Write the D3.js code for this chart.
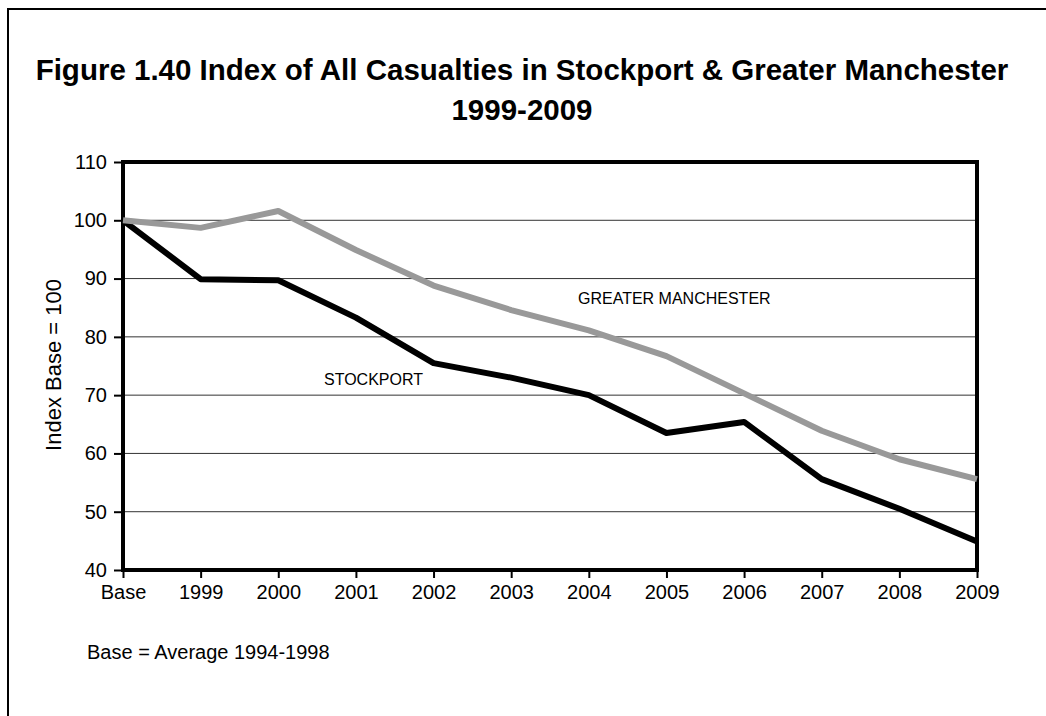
<!DOCTYPE html>
<html>
<head>
<meta charset="utf-8">
<style>
  body { margin: 0; background: #fff; }
  svg { display: block; font-family: "Liberation Sans", Arial, sans-serif; }
</style>
</head>
<body>
<svg width="1046" height="716"></svg>
<script src="https://cdnjs.cloudflare.com/ajax/libs/d3/7.8.5/d3.min.js"></script>
<script>

// categories and values
var categories = ["Base", "1999", "2000", "2001", "2002", "2003", "2004", "2005", "2006", "2007", "2008", "2009"];
var stockport = [100, 89.9, 89.7, 83.3, 75.5, 73.0, 70.0, 63.5, 65.4, 55.6, 50.5, 44.9];
var greaterManchester = [100, 98.7, 101.6, 94.9, 88.8, 84.6, 81.1, 76.7, 70.3, 63.9, 59.0, 55.6];
var yTicks = [40, 50, 60, 70, 80, 90, 100, 110];

var svg = d3.select("svg"),
    margin = {top: 162, left: 123, right: 69, bottom: 146},
    width = +svg.attr("width") - margin.left - margin.right,
    height = +svg.attr("height") - margin.top - margin.bottom;

// outer frame (only left and top edges fall inside the picture)
svg.append("rect")
    .attr("x", 8).attr("y", 9)
    .attr("width", 1100).attr("height", 800)
    .attr("fill", "none")
    .attr("stroke", "#000")
    .attr("stroke-width", 2);

// title
var title = svg.append("text")
    .attr("text-anchor", "middle")
    .attr("font-weight", "bold")
    .attr("font-size", 29.5)
    .attr("fill", "#000");
title.append("tspan").attr("x", 522).attr("y", 80)
    .text("Figure 1.40 Index of All Casualties in Stockport & Greater Manchester");
title.append("tspan").attr("x", 522).attr("y", 120).text("1999-2009");

var g = svg.append("g").attr("transform", "translate(" + margin.left + "," + margin.top + ")");

var x = d3.scalePoint().domain(categories).range([0, width]);
var y = d3.scaleLinear().domain([40, 110]).range([height, 0]);

// gridlines
g.append("g")
    .selectAll("line")
    .data(yTicks.filter(function(d) { return d > 40 && d < 110; }))
    .enter().append("line")
    .attr("x1", 0).attr("x2", width)
    .attr("y1", function(d) { return y(d); })
    .attr("y2", function(d) { return y(d); })
    .attr("stroke", "#333")
    .attr("stroke-width", 1);

// y axis
var yAxis = g.append("g")
    .call(d3.axisLeft(y).tickValues(yTicks).tickSize(9).tickPadding(7));
yAxis.select(".domain").remove();
yAxis.selectAll("line").attr("stroke", "#000").attr("stroke-width", 2);
yAxis.selectAll("text").attr("font-size", 20).attr("fill", "#000")
    .attr("font-family", "Liberation Sans, Arial, sans-serif");

// x axis
var xAxis = g.append("g")
    .attr("transform", "translate(0," + height + ")")
    .call(d3.axisBottom(x).tickSize(8).tickPadding(7));
xAxis.select(".domain").remove();
xAxis.selectAll("line").attr("stroke", "#000").attr("stroke-width", 2);
xAxis.selectAll("text").attr("font-size", 20).attr("fill", "#000")
    .attr("font-family", "Liberation Sans, Arial, sans-serif");

// plot frame
g.append("rect")
    .attr("width", width).attr("height", height)
    .attr("fill", "none")
    .attr("stroke", "#000")
    .attr("stroke-width", 4);

var line = d3.line()
    .x(function(d, i) { return x(categories[i]); })
    .y(function(d) { return y(d); });

g.append("path")
    .datum(stockport)
    .attr("fill", "none")
    .attr("stroke", "#000")
    .attr("stroke-width", 6)
    .attr("stroke-linejoin", "round")
    .attr("d", line);

g.append("path")
    .datum(greaterManchester)
    .attr("fill", "none")
    .attr("stroke", "#999")
    .attr("stroke-width", 6)
    .attr("stroke-linejoin", "round")
    .attr("d", line);

// series labels
svg.append("text").attr("x", 578).attr("y", 304)
    .attr("font-size", 16).text("GREATER MANCHESTER");
svg.append("text").attr("x", 324).attr("y", 385)
    .attr("font-size", 16).text("STOCKPORT");

// y axis title
svg.append("text")
    .attr("transform", "translate(61,365) rotate(-90)")
    .attr("text-anchor", "middle")
    .attr("font-size", 22)
    .text("Index Base = 100");

// footnote
svg.append("text").attr("x", 87).attr("y", 659)
    .attr("font-size", 20).text("Base = Average 1994-1998");

</script>
</body>
</html>
